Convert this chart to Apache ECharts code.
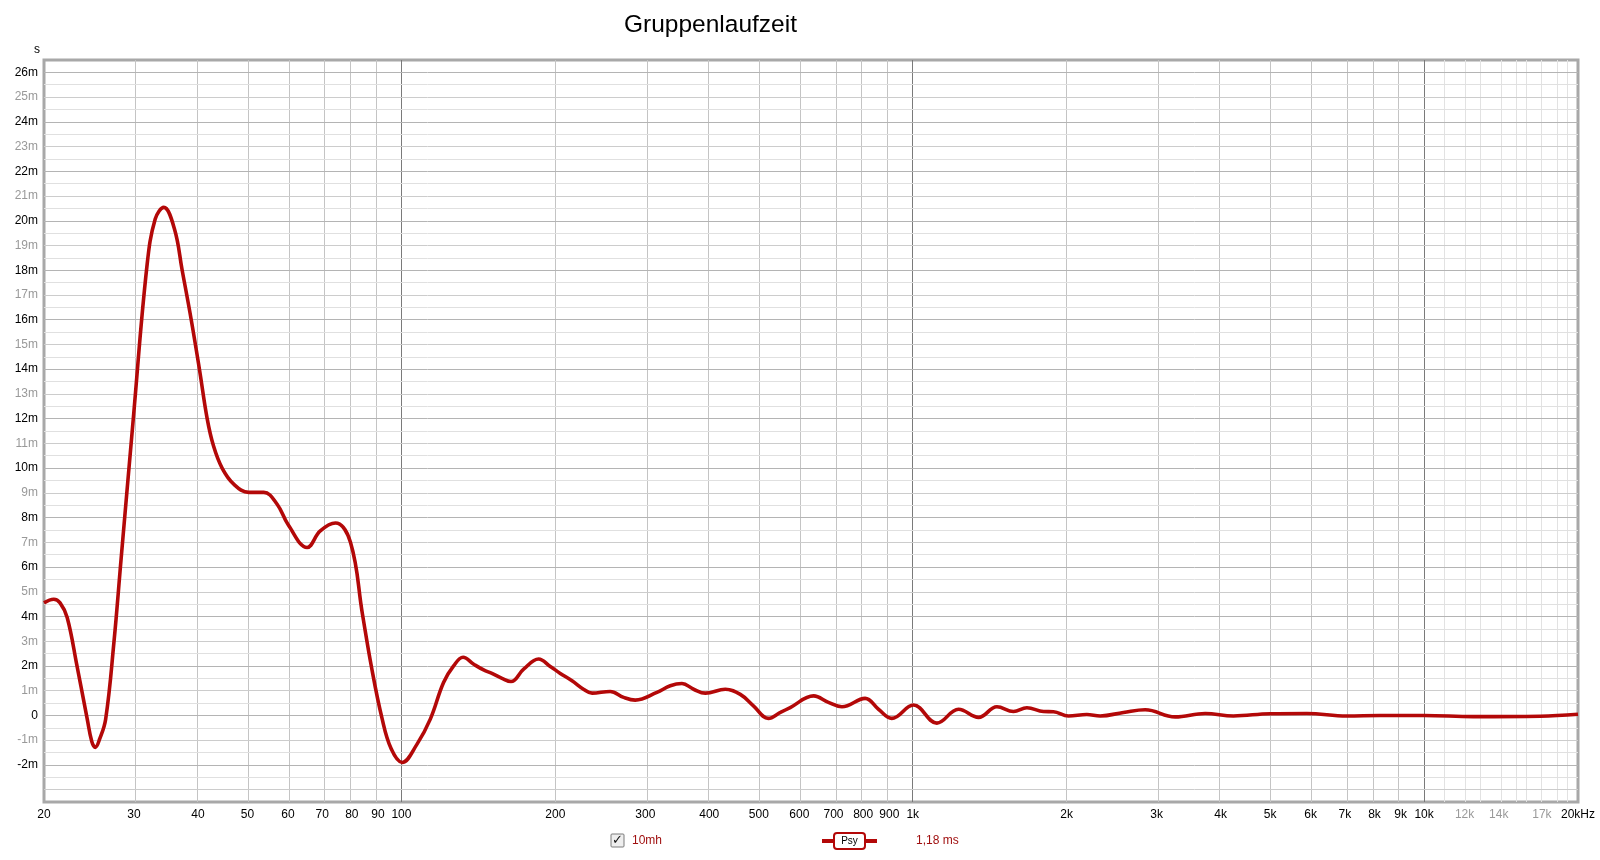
<!DOCTYPE html>
<html><head><meta charset="utf-8">
<script src="https://cdn.jsdelivr.net/npm/echarts@6/dist/echarts.min.js"></script>
<style>html,body{margin:0;padding:0;background:#fff}#c{width:1600px;height:860px}</style>
</head><body><div id="c"></div>
<script>
// Group delay curve: frequency (Hz) and delay (ms)
const freqHz = [20, 20.9, 21.5, 22.2, 23.2, 24.3, 24.8, 25.2, 25.7, 26.4, 27.4, 28.3, 29.9, 31.8, 33.0, 34.3, 36.0, 37.26, 38.81, 40.27, 41.7, 42.9, 44.6, 47.0, 50.3, 53.8, 57.1, 60.1, 65.4, 69.4, 74.3, 79.5, 83.9, 87.3, 91.6, 95.5, 100.3, 107.3, 113.9, 120.9, 126.5, 132, 138.5, 144.8, 150.3, 157.3, 163.8, 173.4, 185.5, 195.5, 204.5, 215.6, 227, 236, 256, 272, 286.6, 316, 335.6, 353.7, 372.8, 393, 430, 460, 488, 522, 551, 576, 640, 684, 727, 807, 857, 910, 1003, 1115, 1229, 1345, 1461, 1574, 1672, 1802, 1885, 2016, 2190, 2326, 2583, 2848, 3259, 3732, 4238, 4998, 5897, 7059, 8204, 10000, 12487, 16860, 20000];
const delayMs = [4.55, 4.70, 4.55, 3.96, 2.01, -0.15, -1.05, -1.29, -0.95, -0.15, 2.95, 6.32, 12.0, 18.18, 20.07, 20.54, 19.66, 18.0, 16.0, 14.0, 12.0, 10.9, 10.0, 9.35, 9.02, 9.02, 8.55, 7.7, 6.79, 7.46, 7.78, 7.0, 4.1, 2.01, -0.1, -1.35, -1.9, -1.16, -0.15, 1.33, 2.0, 2.35, 2.07, 1.84, 1.70, 1.5, 1.37, 1.87, 2.28, 1.98, 1.70, 1.40, 1.06, 0.90, 0.97, 0.73, 0.62, 0.93, 1.2, 1.29, 1.06, 0.90, 1.06, 0.85, 0.39, -0.12, 0.12, 0.32, 0.79, 0.53, 0.35, 0.69, 0.25, -0.12, 0.42, -0.31, 0.25, -0.08, 0.35, 0.16, 0.31, 0.16, 0.15, -0.02, 0.04, -0.02, 0.12, 0.23, -0.06, 0.08, -0.02, 0.07, 0.08, -0.02, 0.0, 0.0, -0.05, -0.03, 0.05];

// Axis ticks and labels
const xGridHz = [30, 40, 50, 60, 70, 80, 90, 100, 200, 300, 400, 500, 600, 700, 800, 900, 1000, 2000, 3000, 4000, 5000, 6000, 7000, 8000, 9000, 10000, 11000, 12000, 13000, 14000, 15000, 16000, 17000, 18000, 19000];
const xDecadeHz = [100, 1000, 10000];
const xLabelHz = [20, 30, 40, 50, 60, 70, 80, 90, 100, 200, 300, 400, 500, 600, 700, 800, 900, 1000, 2000, 3000, 4000, 5000, 6000, 7000, 8000, 9000, 10000, 12000, 14000, 17000, 20000];
const xLabelText = ['20', '30', '40', '50', '60', '70', '80', '90', '100', '200', '300', '400', '500', '600', '700', '800', '900', '1k', '2k', '3k', '4k', '5k', '6k', '7k', '8k', '9k', '10k', '12k', '14k', '17k', '20kHz'];
const xLabelGray = ['12k', '14k', '17k'];
const yLabelMs = [-2, -1, 0, 1, 2, 3, 4, 5, 6, 7, 8, 9, 10, 11, 12, 13, 14, 15, 16, 17, 18, 19, 20, 21, 22, 23, 24, 25, 26];
const yMin = -3.5, yMax = 26.5;

const FONT = "'Liberation Sans', Arial, 'DejaVu Sans', sans-serif";
const CURVE = '#b30808';

const gridLines = [];
xGridHz.forEach(f => {
  let color = '#c4c4c4';
  if (xDecadeHz.indexOf(f) >= 0) color = '#7a7a7a';
  else if (f > 10000) color = '#e2e2e2';
  gridLines.push({ xAxis: Math.log10(f), lineStyle: { color: color, width: 1, type: 'solid' } });
});
for (let v = yMin + 0.5; v < yMax; v += 0.5) {
  let color = '#e0e0e0';
  if (Number.isInteger(v)) color = (Math.abs(v) % 2 === 0) ? '#b4b4b4' : '#cccccc';
  gridLines.push({ yAxis: v, lineStyle: { color: color, width: 1, type: 'solid' } });
}

const chart = echarts.init(document.getElementById('c'), null, { renderer: 'canvas' });
chart.setOption({
  animation: false,
  backgroundColor: '#fff',
  textStyle: { fontFamily: FONT },
  title: {
    text: 'Gruppenlaufzeit', left: 619, top: 8,
    textStyle: { fontFamily: FONT, fontSize: 24.5, fontWeight: 'normal', color: '#000' }
  },
  grid: { left: 44, right: 22, top: 60, bottom: 58, show: true, borderColor: '#a8a8a8', borderWidth: 3, backgroundColor: 'transparent' },
  xAxis: {
    type: 'value', min: Math.log10(20), max: Math.log10(20000),
    axisLine: { show: false }, axisTick: { show: false }, splitLine: { show: false },
    axisLabel: {
      customValues: xLabelHz.map(f => Math.log10(f)),
      margin: 7, fontSize: 12, fontFamily: FONT, color: '#000',
      formatter: function (v) {
        for (let i = 0; i < xLabelHz.length; i++) {
          if (Math.abs(Math.log10(xLabelHz[i]) - v) < 1e-6) {
            const t = xLabelText[i];
            return xLabelGray.indexOf(t) >= 0 ? '{g|' + t + '}' : '{k|' + t + '}';
          }
        }
        return '';
      },
      rich: {
        k: { color: '#000', fontSize: 12, fontFamily: FONT },
        g: { color: '#9a9a9a', fontSize: 12, fontFamily: FONT }
      }
    }
  },
  yAxis: {
    type: 'value', min: yMin, max: yMax,
    name: 's', nameLocation: 'end', nameGap: 4,
    nameTextStyle: { fontFamily: FONT, fontSize: 12, color: '#000', align: 'right', padding: [0, 4, 0, 0] },
    axisLine: { show: false }, axisTick: { show: false }, splitLine: { show: false },
    axisLabel: {
      customValues: yLabelMs,
      margin: 6, fontSize: 12, fontFamily: FONT,
      formatter: function (v) {
        const t = v === 0 ? '0' : (v + 'm');
        return (Math.abs(v) % 2 === 0) ? '{k|' + t + '}' : '{g|' + t + '}';
      },
      rich: {
        k: { color: '#000', fontSize: 12, fontFamily: FONT },
        g: { color: '#999999', fontSize: 12, fontFamily: FONT }
      }
    }
  },
  series: [
    {
      type: 'line', data: [], z: 1, silent: true,
      markLine: { silent: true, symbol: 'none', z: 1, animation: false, label: { show: false }, emphasis: { disabled: true }, data: gridLines }
    },
    {
      type: 'line', name: 'Psy', z: 3, silent: true,
      data: freqHz.map((f, i) => [Math.log10(f), delayMs[i]]),
      smooth: 0.4, showSymbol: false, symbol: 'none',
      lineStyle: { color: CURVE, width: 3.6 }
    }
  ],
  graphic: [
    { type: 'rect', shape: { x: 611, y: 834, width: 13, height: 13, r: 1 }, style: { fill: '#eeeeee', stroke: '#7a7a7a', lineWidth: 1 } },
    { type: 'text', x: 617.5, y: 841, style: { text: '✓', align: 'center', verticalAlign: 'middle', font: 'bold 13px "DejaVu Sans"', fill: '#111' } },
    { type: 'text', x: 632, y: 841, style: { text: '10mh', align: 'left', verticalAlign: 'middle', font: '12px ' + FONT, fill: '#a01010' } },
    { type: 'line', shape: { x1: 822, y1: 841, x2: 877, y2: 841 }, style: { stroke: CURVE, lineWidth: 4 } },
    { type: 'rect', shape: { x: 834, y: 833, width: 31, height: 16, r: 3 }, style: { fill: '#fff', stroke: CURVE, lineWidth: 2 } },
    { type: 'text', x: 849.5, y: 841, style: { text: 'Psy', align: 'center', verticalAlign: 'middle', font: '10px ' + FONT, fill: '#000' } },
    { type: 'text', x: 916, y: 841, style: { text: '1,18 ms', align: 'left', verticalAlign: 'middle', font: '12px ' + FONT, fill: '#a01010' } }
  ]
});
</script>
</body></html>
